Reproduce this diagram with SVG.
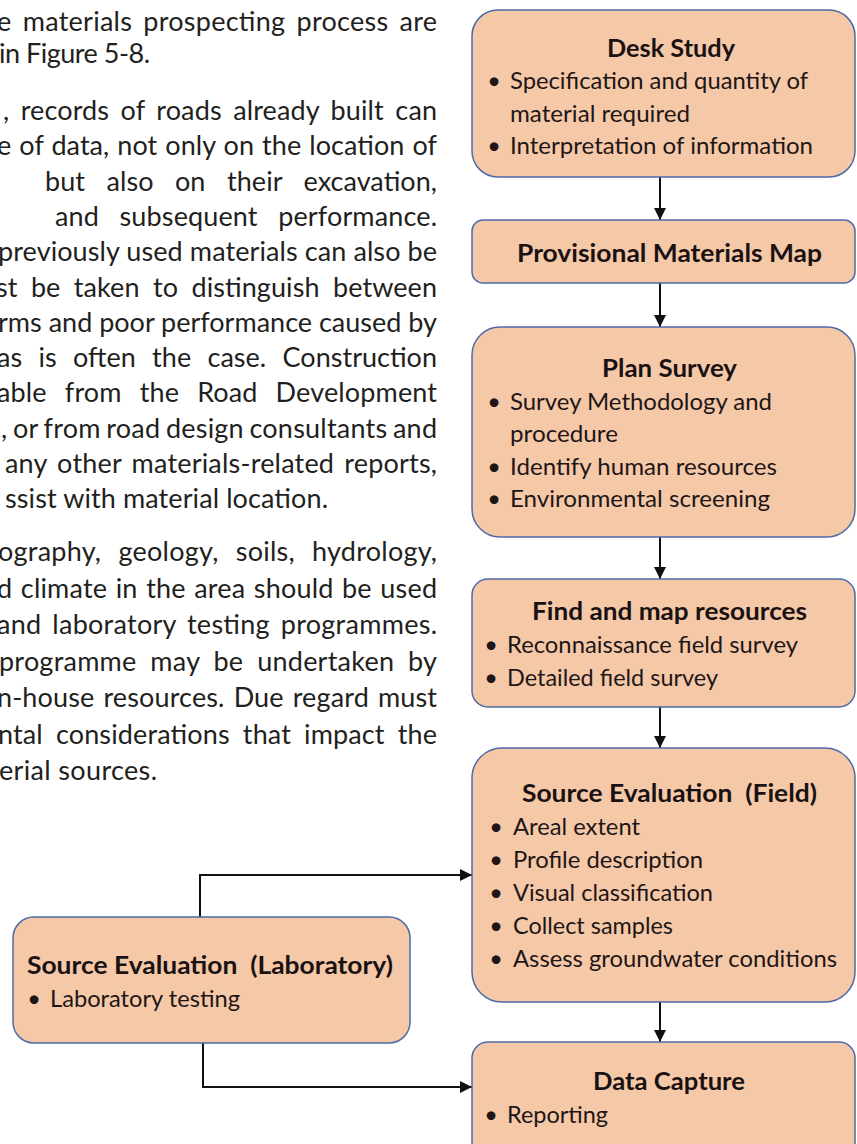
<svg xmlns="http://www.w3.org/2000/svg" width="857" height="1144" viewBox="0 0 857 1144">
  <defs>
    <marker id="arrow" markerUnits="userSpaceOnUse" markerWidth="13" markerHeight="12" refX="12" refY="6" orient="auto">
      <path d="M0,0 L12,6 L0,12 z" fill="#111"/>
    </marker>
    <style>
      .body { font-family: Lato, "Liberation Sans", sans-serif; font-size: 27px; fill: #231f20; }
      .box { fill: #F5C8A8; stroke: #4E6AA6; stroke-width: 1.5; }
      .title { font-family: Lato, "Liberation Sans", sans-serif; font-size: 25.5px; font-weight: bold; fill: #1a1212; text-anchor: middle; }
      .item { font-family: Lato, "Liberation Sans", sans-serif; font-size: 23.5px; fill: #1e1616; }
      .dot { font-family: Lato, "Liberation Sans", sans-serif; font-size: 23.5px; fill: #1e1616; text-anchor: middle; }
      .link { fill: none; stroke: #111; stroke-width: 2; }
    </style>
  </defs>

  <rect width="857" height="1144" fill="#ffffff"/>

  <!-- body text column, clipped at the left margin -->
  <g id="body-text" class="body">
    <text x="-3" y="31" textLength="440" lengthAdjust="spacing" word-spacing="4">e materials prospecting process are</text>
    <text x="-1" y="63" textLength="151" lengthAdjust="spacing">in Figure 5-8.</text>
    <text x="3" y="120" textLength="434" lengthAdjust="spacing" word-spacing="4.4">, records of roads already built can</text>
    <text x="-3" y="155.3" textLength="440" lengthAdjust="spacing" word-spacing="1">e of data, not only on the location of</text>
    <text x="45" y="190.6" textLength="392" lengthAdjust="spacing" word-spacing="14.5">but also on their excavation,</text>
    <text x="55" y="225.9" textLength="382" lengthAdjust="spacing" word-spacing="13.5">and subsequent performance.</text>
    <text x="-2" y="261.2" textLength="439" lengthAdjust="spacing">previously used materials can also be</text>
    <text x="-4" y="296.5" textLength="441" lengthAdjust="spacing" word-spacing="6.4">st be taken to distinguish between</text>
    <text x="-2" y="331.8" textLength="439" lengthAdjust="spacing">rms and poor performance caused by</text>
    <text x="-3" y="367.1" textLength="440" lengthAdjust="spacing" word-spacing="9.4">as is often the case. Construction</text>
    <text x="-3" y="402.4" textLength="440" lengthAdjust="spacing" word-spacing="11">able from the Road Development</text>
    <text x="1" y="437.7" textLength="436" lengthAdjust="spacing" word-spacing="-1.5">, or from road design consultants and</text>
    <text x="5" y="473" textLength="432" lengthAdjust="spacing" word-spacing="3">any other materials-related reports,</text>
    <text x="5" y="508.3" textLength="323" lengthAdjust="spacing">ssist with material location.</text>
    <text x="-2" y="561" textLength="439" lengthAdjust="spacing" word-spacing="10">ography, geology, soils, hydrology,</text>
    <text x="-3" y="597.5" textLength="440" lengthAdjust="spacing" word-spacing="1.5">d climate in the area should be used</text>
    <text x="-3" y="634" textLength="440" lengthAdjust="spacing" word-spacing="3.7">and laboratory testing programmes.</text>
    <text x="-1" y="670.5" textLength="438" lengthAdjust="spacing" word-spacing="6.7">programme may be undertaken by</text>
    <text x="-3" y="707" textLength="440" lengthAdjust="spacing" word-spacing="2">n-house resources. Due regard must</text>
    <text x="-2" y="743.5" textLength="439" lengthAdjust="spacing" word-spacing="6">ntal considerations that impact the</text>
    <text x="-1" y="780" textLength="158" lengthAdjust="spacing">erial sources.</text>
  </g>

  <!-- connectors -->
  <g id="connectors">
    <line class="link" x1="660" y1="177" x2="660" y2="220" marker-end="url(#arrow)"/>
    <line class="link" x1="660" y1="283" x2="660" y2="327" marker-end="url(#arrow)"/>
    <line class="link" x1="660" y1="537" x2="660" y2="579" marker-end="url(#arrow)"/>
    <line class="link" x1="660" y1="707" x2="660" y2="748" marker-end="url(#arrow)"/>
    <line class="link" x1="660" y1="1002" x2="660" y2="1042" marker-end="url(#arrow)"/>
    <polyline class="link" points="200,917 200,875 472,875" marker-end="url(#arrow)"/>
    <polyline class="link" points="203,1043 203,1087 472,1087" marker-end="url(#arrow)"/>
  </g>

  <g id="desk-study">
    <rect class="box" x="472" y="10" width="383" height="167" rx="26"/>
    <text class="title" x="671" y="57" textLength="128" lengthAdjust="spacingAndGlyphs">Desk Study</text>
    <text class="dot" x="494" y="89">•</text>
    <text class="item" x="510" y="89" textLength="298" lengthAdjust="spacingAndGlyphs">Specification and quantity of</text>
    <text class="item" x="510" y="121.5" textLength="180" lengthAdjust="spacingAndGlyphs">material required</text>
    <text class="dot" x="494" y="154">•</text>
    <text class="item" x="510" y="154" textLength="303" lengthAdjust="spacingAndGlyphs">Interpretation of information</text>
  </g>

  <g id="materials-map">
    <rect class="box" x="472" y="220" width="383" height="63" rx="11"/>
    <text class="title" x="669.5" y="262" textLength="305" lengthAdjust="spacingAndGlyphs">Provisional Materials Map</text>
  </g>

  <g id="plan-survey">
    <rect class="box" x="472" y="327" width="383" height="210" rx="28"/>
    <text class="title" x="669.5" y="377" textLength="135" lengthAdjust="spacingAndGlyphs">Plan Survey</text>
    <text class="dot" x="494" y="410">•</text>
    <text class="item" x="510" y="410" textLength="262" lengthAdjust="spacingAndGlyphs">Survey Methodology and</text>
    <text class="item" x="510" y="442" textLength="108" lengthAdjust="spacingAndGlyphs">procedure</text>
    <text class="dot" x="494" y="475">•</text>
    <text class="item" x="510" y="475" textLength="267" lengthAdjust="spacingAndGlyphs">Identify human resources</text>
    <text class="dot" x="494" y="507">•</text>
    <text class="item" x="510" y="507" textLength="260" lengthAdjust="spacingAndGlyphs">Environmental screening</text>
  </g>

  <g id="find-resources">
    <rect class="box" x="472" y="579" width="383" height="128" rx="16"/>
    <text class="title" x="669.5" y="620" textLength="275" lengthAdjust="spacingAndGlyphs">Find and map resources</text>
    <text class="dot" x="491" y="653">•</text>
    <text class="item" x="507" y="653" textLength="291" lengthAdjust="spacingAndGlyphs">Reconnaissance field survey</text>
    <text class="dot" x="491" y="686">•</text>
    <text class="item" x="507" y="686" textLength="211" lengthAdjust="spacingAndGlyphs">Detailed field survey</text>
  </g>

  <g id="field-evaluation">
    <rect class="box" x="472" y="748" width="383" height="254" rx="30"/>
    <text class="title" x="669.5" y="802" textLength="295" lengthAdjust="spacingAndGlyphs" xml:space="preserve">Source Evaluation  (Field)</text>
    <text class="dot" x="496" y="835">•</text>
    <text class="item" x="513" y="835" textLength="127" lengthAdjust="spacingAndGlyphs">Areal extent</text>
    <text class="dot" x="496" y="868">•</text>
    <text class="item" x="513" y="868" textLength="190" lengthAdjust="spacingAndGlyphs">Profile description</text>
    <text class="dot" x="496" y="901">•</text>
    <text class="item" x="513" y="901" textLength="200" lengthAdjust="spacingAndGlyphs">Visual classification</text>
    <text class="dot" x="496" y="934">•</text>
    <text class="item" x="513" y="934" textLength="160" lengthAdjust="spacingAndGlyphs">Collect samples</text>
    <text class="dot" x="496" y="967">•</text>
    <text class="item" x="513" y="967" textLength="324" lengthAdjust="spacingAndGlyphs">Assess groundwater conditions</text>
  </g>

  <g id="data-capture">
    <rect class="box" x="472" y="1042" width="383" height="140" rx="16"/>
    <text class="title" x="669" y="1090" textLength="152" lengthAdjust="spacingAndGlyphs">Data Capture</text>
    <text class="dot" x="491" y="1123">•</text>
    <text class="item" x="507" y="1123" textLength="101" lengthAdjust="spacingAndGlyphs">Reporting</text>
  </g>

  <g id="lab-evaluation">
    <rect class="box" x="13" y="917" width="397" height="126" rx="21"/>
    <text class="title" x="27" y="974" style="text-anchor:start" textLength="366" lengthAdjust="spacingAndGlyphs" xml:space="preserve">Source Evaluation  (Laboratory)</text>
    <text class="dot" x="34" y="1007">•</text>
    <text class="item" x="50" y="1007" textLength="190" lengthAdjust="spacingAndGlyphs">Laboratory testing</text>
  </g>
</svg>
